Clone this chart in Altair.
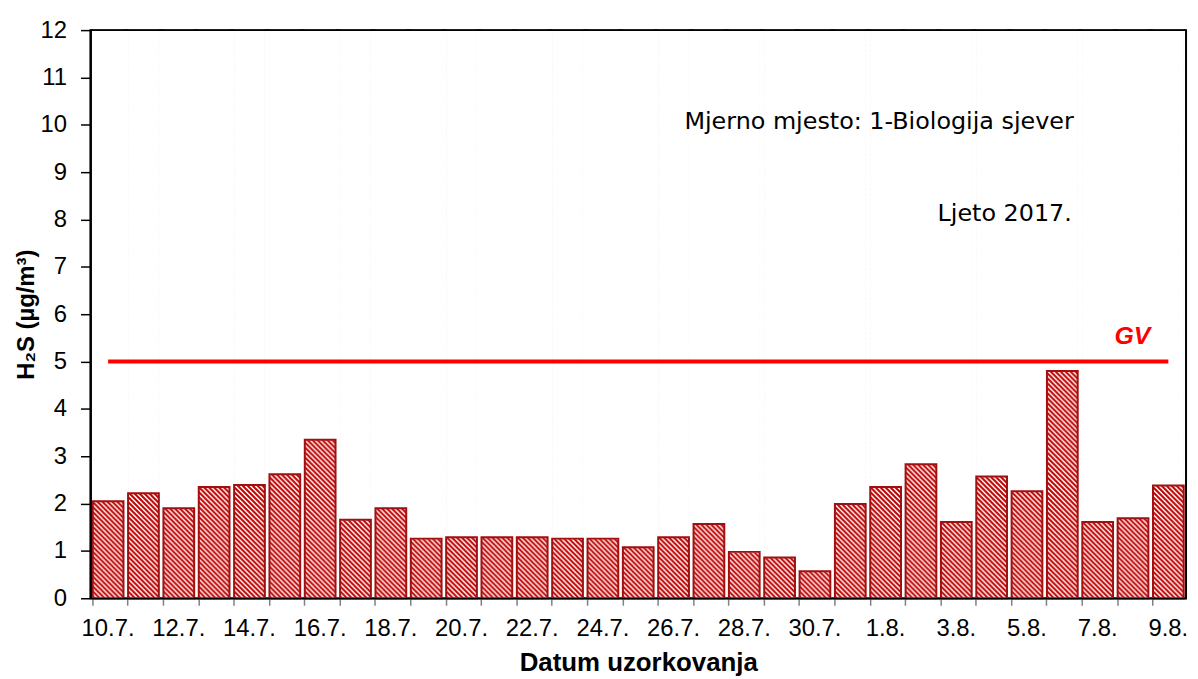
import altair as alt
import pandas as pd
from urllib.parse import quote

# ---------------- data ----------------
dates = ["10.7.", "11.7.", "12.7.", "13.7.", "14.7.", "15.7.", "16.7.", "17.7.",
         "18.7.", "19.7.", "20.7.", "21.7.", "22.7.", "23.7.", "24.7.", "25.7.",
         "26.7.", "27.7.", "28.7.", "29.7.", "30.7.", "31.7.", "1.8.", "2.8.",
         "3.8.", "4.8.", "5.8.", "6.8.", "7.8.", "8.8.", "9.8."]
h2s = [2.05, 2.22, 1.90, 2.35, 2.39, 2.62, 3.35, 1.66, 1.90, 1.26, 1.29,
       1.29, 1.29, 1.26, 1.26, 1.08, 1.29, 1.57, 0.98, 0.86, 0.57, 1.99,
       2.35, 2.83, 1.61, 2.57, 2.26, 4.80, 1.61, 1.69, 2.38]
labeled_dates = dates[::2]
gv_value = 5
y_ticks = list(range(0, 13))
y_max = 12

annot_site = "Mjerno mjesto: 1-Biologija sjever"
annot_season = "Ljeto 2017."

# ---------------- styling ----------------
W, H = 1103, 572
PAD_INNER = 0.13
STRIPE = "#c00000"
BORDER = "#a01010"
RED = "#ff0000"
FONT = "Liberation Sans"

hatch_svg = (
    "<svg xmlns='http://www.w3.org/2000/svg' width='31' height='572' "
    "viewBox='0 0 31 572' preserveAspectRatio='none'>"
    "<defs><pattern id='h' width='5' height='5' patternUnits='userSpaceOnUse'>"
    f"<path d='M-1,-1 L6,6 M4,-1 L6,1 M-1,4 L1,6' stroke='{STRIPE}' stroke-width='2'/>"
    "</pattern></defs>"
    "<rect width='31' height='572' fill='white'/>"
    "<rect width='31' height='572' fill='url(#h)'/></svg>"
)
HATCH_URI = "data:image/svg+xml;charset=utf-8," + quote(hatch_svg)

df = pd.DataFrame({"date": dates, "value": h2s})
gv_df = pd.DataFrame({"start": [dates[0]], "end": [dates[-1]], "gv": [gv_value]})

label_list = ",".join(f"'{d}'" for d in labeled_dates)

x_scale = alt.Scale(domain=dates, paddingInner=PAD_INNER, paddingOuter=PAD_INNER / 2)
y_scale = alt.Scale(domain=[0, y_max], nice=False)

x_axis = alt.Axis(
    title="Datum uzorkovanja",
    bandPosition=0,
    labelExpr=f"indexof([{label_list}], datum.value) >= 0 ? datum.label : ''",
    labelAngle=0,
    labelFontSize=24,
    labelFont=FONT,
    labelColor="black",
    labelPadding=11,
    labelOverlap=False,
    tickSize=7,
    tickColor="#808080",
    tickWidth=1.5,
    domainColor="black",
    domainWidth=1.5,
    titleFont=FONT,
    titleFontSize=26,
    titleFontWeight="bold",
    titleColor="black",
    titlePadding=10,
    grid=False,
    zindex=1,
)
y_axis = alt.Axis(
    title="H₂S (µg/m³)",
    values=y_ticks,
    labelFontSize=24,
    labelFont=FONT,
    labelColor="black",
    labelPadding=14,
    tickSize=10,
    tickColor="black",
    tickWidth=1.5,
    domainColor="black",
    domainWidth=2,
    titleFont=FONT,
    titleFontSize=24,
    titleFontWeight="bold",
    titleColor="black",
    titlePadding=2,
    grid=False,
    zindex=1,
)

base = alt.Chart(df)

hatch = base.mark_image(aspect=False).encode(
    x=alt.X("date:N", scale=x_scale, axis=x_axis, sort=dates),
    y=alt.datum(0, scale=y_scale, axis=y_axis, type="quantitative"),
    y2=alt.datum(y_max),
    url=alt.value(HATCH_URI),
)

cover = base.mark_bar(fill="white", stroke="white", strokeWidth=1).encode(
    x=alt.X("date:N", sort=dates),
    y=alt.Y("value:Q"),
    y2=alt.datum(y_max),
)

outline = base.mark_bar(fill="transparent", stroke=BORDER, strokeWidth=2).encode(
    x=alt.X("date:N", sort=dates),
    y=alt.Y("value:Q"),
    y2=alt.datum(0),
)

gv_line = alt.Chart(gv_df).mark_rule(color=RED, strokeWidth=4).encode(
    x=alt.X("start:N", sort=dates),
    x2="end:N",
    y=alt.Y("gv:Q"),
)

gv_text = alt.Chart(gv_df).mark_text(
    text="GV", color=RED, fontSize=25, fontWeight="bold", fontStyle="italic",
    font=FONT, align="center", baseline="alphabetic", dy=-18,
).encode(
    x=alt.value(1049),
    y=alt.Y("gv:Q"),
)

top_border = alt.Chart(gv_df).mark_rule(color="black", strokeWidth=2).encode(
    x=alt.value(0), x2=alt.value(W), y=alt.datum(y_max),
)

site_text = alt.Chart(gv_df).mark_text(
    text=annot_site, fontSize=24, font="DejaVu Sans", color="black",
    align="right", baseline="alphabetic",
).encode(x=alt.value(990), y=alt.value(100))

season_text = alt.Chart(gv_df).mark_text(
    text=annot_season, fontSize=24, font="DejaVu Sans", color="black",
    align="right", baseline="alphabetic",
).encode(x=alt.value(988), y=alt.value(192))

chart = alt.layer(
    hatch, cover, outline, gv_line, gv_text, top_border, site_text, season_text
).properties(
    width=W,
    height=H,
    autosize=alt.AutoSizeParams(type="none"),
    padding={"left": 83, "top": 20, "right": 4, "bottom": 79},
    background="white",
).configure_view(
    stroke="black", strokeWidth=2,
)

chart.save("out.html", embed_options={"renderer": "svg", "actions": False})
